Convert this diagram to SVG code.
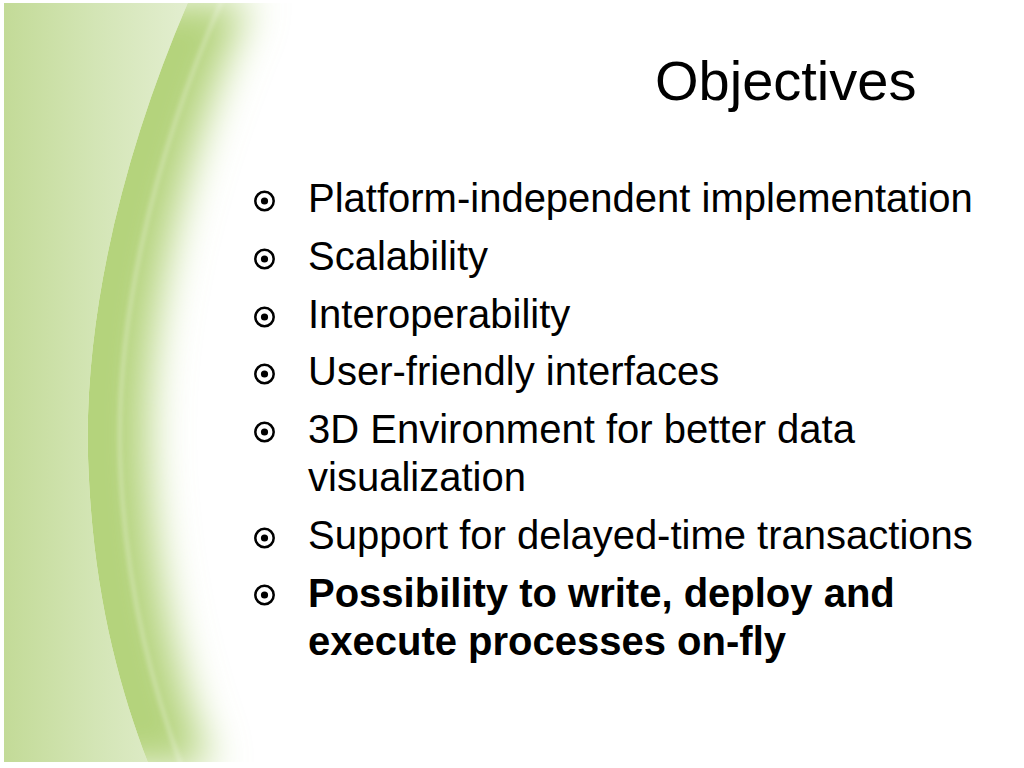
<svg xmlns="http://www.w3.org/2000/svg" width="1024" height="768" viewBox="0 0 1024 768">
<style>
.title{font-family:"Liberation Sans",Arial,sans-serif;font-size:56px;fill:#000}
.item{font-family:"Liberation Sans",Arial,sans-serif;font-size:40px;fill:#000}
.bold{font-weight:bold}
.bo{fill:none;stroke:#000;stroke-width:2.5}
</style>
<defs>
<linearGradient id="leftGrad" x1="0" y1="0" x2="1" y2="0" gradientUnits="objectBoundingBox">
<stop offset="0" stop-color="#c2da96"/>
<stop offset="0.5" stop-color="#d3e5b5"/>
<stop offset="1" stop-color="#e3eed0"/>
</linearGradient>
<filter id="blur" x="-0.5" y="-0.1" width="2" height="1.2">
<feGaussianBlur stdDeviation="20"/>
</filter>
<filter id="blur2" x="-0.5" y="-0.1" width="2" height="1.2">
<feGaussianBlur stdDeviation="2"/>
</filter>
<clipPath id="page"><rect x="4" y="3" width="1020" height="759"/></clipPath>
<clipPath id="rightOfEdge"><path d="M189,0 C120,160 80,330 89,480 C95,600 120,690 150,768 L1024,768 L1024,0 Z"/></clipPath>
<g id="bullet"><circle cx="0" cy="0" r="9.2" class="bo"/><circle cx="0" cy="0" r="3.6" fill="#000"/></g>
</defs>
<rect width="1024" height="768" fill="#fff"/>
<g id="background" clip-path="url(#page)">
<path d="M0,0 L189,0 C120,160 80,330 89,480 C95,600 120,690 150,768 L0,768 Z" fill="url(#leftGrad)"/>
<g clip-path="url(#rightOfEdge)">
<path d="M-50,0 L250,0 C182,160 140,330 150,480 C158,600 182,690 212,768 L-50,768 Z" fill="#b4d37b" filter="url(#blur)"/>
<path d="M222,0 C152,160 112,330 121,480 C128,600 154,690 182,768" fill="none" stroke="#ffffff" stroke-opacity="0.35" stroke-width="3" filter="url(#blur2)"/>
</g>
</g>
<g id="title"><text class="title" x="655" y="100">Objectives</text></g>
<g id="item1"><use href="#bullet" x="264.5" y="201"/><text class="item" x="308" y="212">Platform-independent implementation</text></g>
<g id="item2"><use href="#bullet" x="264.5" y="259"/><text class="item" x="308" y="270">Scalability</text></g>
<g id="item3"><use href="#bullet" x="264.5" y="317"/><text class="item" x="308" y="328">Interoperability</text></g>
<g id="item4"><use href="#bullet" x="264.5" y="374"/><text class="item" x="308" y="385">User-friendly interfaces</text></g>
<g id="item5"><use href="#bullet" x="264.5" y="432"/><text class="item" x="308" y="443">3D Environment for better data</text><text class="item" x="308" y="491">visualization</text></g>
<g id="item6"><use href="#bullet" x="264.5" y="538"/><text class="item" x="308" y="549">Support for delayed-time transactions</text></g>
<g id="item7"><use href="#bullet" x="264.5" y="595"/><text class="item bold" x="308" y="607">Possibility to write, deploy and</text><text class="item bold" x="308" y="655">execute processes on-fly</text></g>
</svg>
